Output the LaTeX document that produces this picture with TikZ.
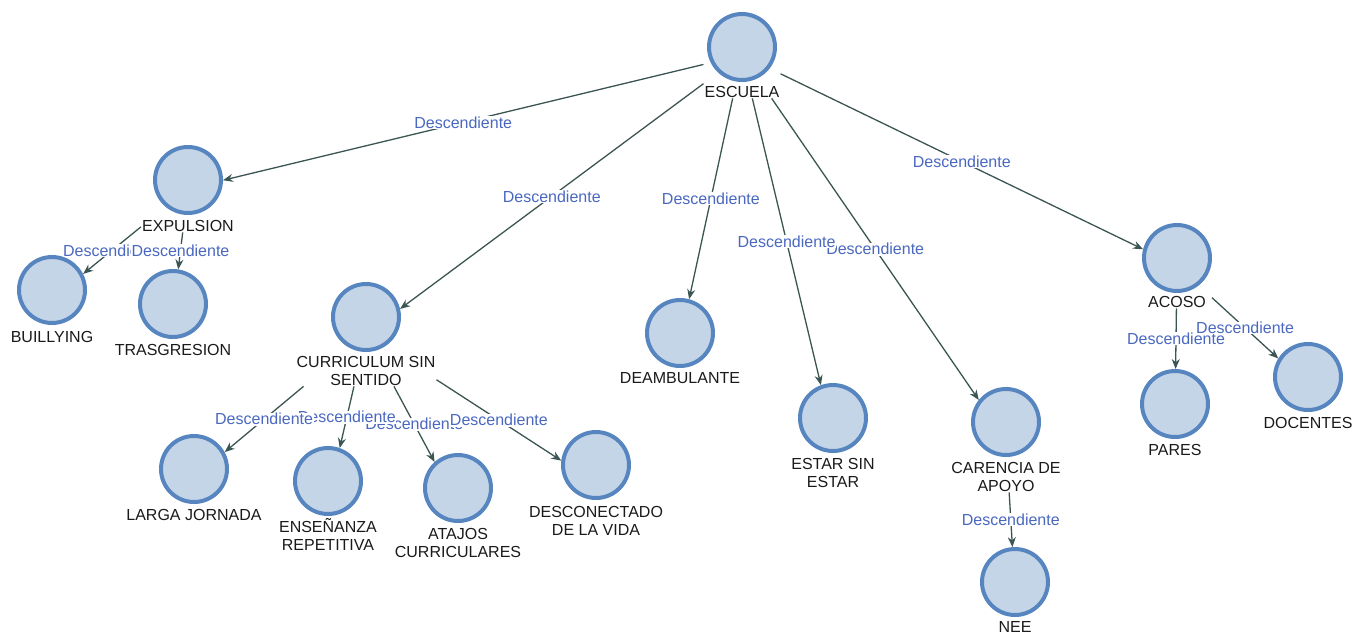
\documentclass[tikz,border=0pt]{standalone}
\usepackage{fontspec}
\setmainfont{Liberation Sans}
\usetikzlibrary{fit,arrows.meta,intersections}
\definecolor{cfill}{HTML}{C5D5E8}
\definecolor{cdraw}{HTML}{5685BF}
\definecolor{edgec}{HTML}{3B5553}
\definecolor{lblc}{HTML}{4A68C0}
\definecolor{txtc}{HTML}{1A1A1A}
\tikzset{
  conc/.style={circle, minimum size=66pt, inner sep=0pt, line width=4pt, draw=cdraw, fill=cfill},
  lab/.style={anchor=base, align=center, inner sep=1pt, font=\fontsize{16}{18}\selectfont, text=txtc},
  bbox/.style={inner sep=0pt, outer sep=0pt},
  rel/.style={draw=edgec, line width=1.3pt, -{Stealth[length=10pt,width=8pt]}},
  elab/.style={fill=white, inner sep=0.5pt, text=lblc, font=\fontsize{16}{18}\selectfont}
}
% connector from box #1 to circle of #2, aimed at the centre of box #2
\newcommand\mklink[2]{%
  \path[name path=lnA] (#1.center) -- (#2.center);
  \path[name path=lnB] (#2c.center) circle[radius=35pt];
  \path[name intersections={of=lnA and lnB, by={#1#2end}}];
  \draw[rel] (#1) -- (#1#2end);
}
\newcommand\mklabel[2]{%
  \path (#1) -- (#1#2end) node[midway, elab] {Descendiente};
}
\begin{document}
\begin{tikzpicture}[x=1pt,y=-1pt]
\useasboundingbox (0,0) rectangle (1353,633);
% concepts
\node[conc] (escc) at (742,47) {};   \node[lab] (escl) at (742,97) {ESCUELA};
\node[conc] (expc) at (188,180) {};  \node[lab] (expl) at (188,231) {EXPULSION};
\node[conc] (bulc) at (52,290) {};   \node[lab] (bull) at (52,342) {BUILLYING};
\node[conc] (trac) at (173,304) {};  \node[lab] (tral) at (173,355) {TRASGRESION};
\node[conc] (curc) at (366,317) {};  \node[lab] (curl) at (366,385) {CURRICULUM SIN\\SENTIDO};
\node[conc] (deac) at (680,333) {};  \node[lab] (deal) at (680,383) {DEAMBULANTE};
\node[conc] (estc) at (833,418) {};  \node[lab] (estl) at (833,487) {ESTAR SIN\\ESTAR};
\node[conc] (carc) at (1006,422) {}; \node[lab] (carl) at (1006,491) {CARENCIA DE\\APOYO};
\node[conc] (neec) at (1015,582) {}; \node[lab] (neel) at (1015,632) {NEE};
\node[conc] (acoc) at (1177,258) {}; \node[lab] (acol) at (1177,307) {ACOSO};
\node[conc] (parc) at (1175,404) {}; \node[lab] (parl) at (1175,455) {PARES};
\node[conc] (docc) at (1308,377) {}; \node[lab] (docl) at (1308,428) {DOCENTES};
\node[conc] (larc) at (194,469) {};  \node[lab] (larl) at (194,520) {LARGA JORNADA};
\node[conc] (ensc) at (328,481) {};  \node[lab] (ensl) at (328,550) {ENSEÑANZA\\REPETITIVA};
\node[conc] (atac) at (458,488) {};  \node[lab] (atal) at (458,557) {ATAJOS\\CURRICULARES};
\node[conc] (desc) at (596,465) {};  \node[lab] (desl) at (596,535) {DESCONECTADO\\DE LA VIDA};
% bounding boxes of circle + text
\foreach \n in {esc,exp,bul,tra,cur,dea,est,car,nee,aco,par,doc,lar,ens,ata,des}
  \node[bbox, fit=(\n c)(\n l)] (\n) {};
% connectors
\mklink{esc}{exp}
\mklink{esc}{cur}
\mklink{esc}{dea}
\mklink{esc}{est}
\mklink{esc}{car}
\mklink{esc}{aco}
\mklink{exp}{bul}
\mklink{exp}{tra}
\mklink{cur}{lar}
\mklink{cur}{ens}
\mklink{cur}{ata}
\mklink{cur}{des}
\mklink{car}{nee}
\mklink{aco}{par}
\mklink{aco}{doc}
% connector labels
\mklabel{esc}{exp}
\mklabel{esc}{cur}
\mklabel{esc}{dea}
\mklabel{esc}{car}
\mklabel{esc}{est}
\mklabel{esc}{aco}
\mklabel{exp}{bul}
\mklabel{exp}{tra}
\mklabel{cur}{ata}
\mklabel{cur}{ens}
\mklabel{cur}{lar}
\mklabel{cur}{des}
\mklabel{car}{nee}
\mklabel{aco}{par}
\mklabel{aco}{doc}
\end{tikzpicture}
\end{document}
